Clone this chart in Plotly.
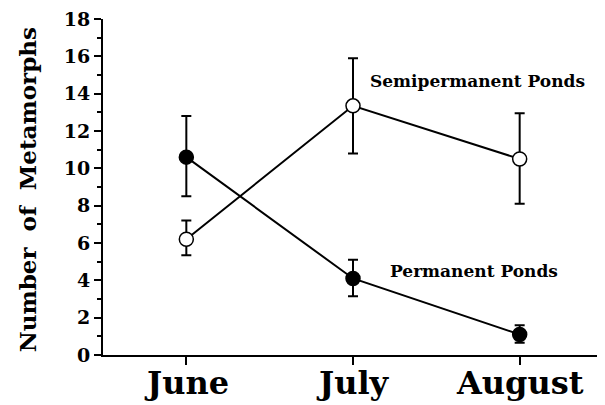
import plotly.graph_objects as go

months = ["June", "July", "August"]
perm_vals = [10.6, 4.1, 1.1]
perm_err_up = [2.2, 1.0, 0.5]
perm_err_dn = [2.1, 0.95, 0.45]
semi_vals = [6.2, 13.35, 10.5]
semi_err_up = [1.0, 2.55, 2.45]
semi_err_dn = [0.85, 2.55, 2.4]
y_ticks = [0, 2, 4, 6, 8, 10, 12, 14, 16, 18]

xpos = list(range(len(months)))
FONT = "DejaVu Serif"

# page has an 8px body margin; figure sized to fit the window
W, H = 597, 397
L, R, T, B = 95, 2, 11, 50
plot_w = W - L - R
plot_h = H - T - B

fig = go.Figure()
fig.add_trace(go.Scatter(
    x=xpos, y=semi_vals, mode="lines+markers",
    line=dict(color="black", width=2),
    marker=dict(size=14, color="white", line=dict(color="black", width=1.5)),
    error_y=dict(type="data", array=semi_err_up, arrayminus=semi_err_dn,
                 color="black", thickness=2, width=5),
    showlegend=False))
fig.add_trace(go.Scatter(
    x=xpos, y=perm_vals, mode="lines+markers",
    line=dict(color="black", width=2),
    marker=dict(size=14, color="black", line=dict(color="black", width=1.5)),
    error_y=dict(type="data", array=perm_err_up, arrayminus=perm_err_dn,
                 color="black", thickness=2, width=5),
    showlegend=False))

fig.add_annotation(x=1.09, y=14.7, xref="x", yref="y", text="<b>Semipermanent Ponds</b>",
                   showarrow=False, xanchor="left", yanchor="middle",
                   font=dict(family=FONT, size=17, color="black"))
fig.add_annotation(x=1.21, y=4.5, xref="x", yref="y", text="<b>Permanent Ponds</b>",
                   showarrow=False, xanchor="left", yanchor="middle",
                   font=dict(family=FONT, size=17, color="black"))
fig.add_annotation(x=(19 - L) / plot_w, y=0.49, xref="paper", yref="paper",
                   text="<b>Number  of  Metamorphs</b>", textangle=-90,
                   showarrow=False, xanchor="center", yanchor="middle",
                   font=dict(family=FONT, size=23, color="black"))
for i, m in enumerate(months):
    fig.add_annotation(x=i, y=-28 / plot_h, xref="x", yref="paper",
                       text="<b>%s</b>" % m, showarrow=False,
                       xanchor="center", yanchor="middle",
                       font=dict(family=FONT, size=32, color="black"))

fig.update_layout(
    width=W, height=H,
    margin=dict(l=L, r=R, t=T, b=B),
    paper_bgcolor="white", plot_bgcolor="white",
    xaxis=dict(range=[-0.5, 2.5], tickvals=xpos, showticklabels=False, automargin=False,
               showgrid=False, zeroline=False, showline=True, linecolor="black", linewidth=2,
               ticks="outside", ticklen=8, tickwidth=2, tickcolor="black"),
    yaxis=dict(range=[0, 18], tickvals=y_ticks, ticktext=["<b>%d</b>" % v for v in y_ticks],
               automargin=False,
               showgrid=False, zeroline=False, showline=True, linecolor="black", linewidth=2,
               ticks="outside", ticklen=7, tickwidth=2, tickcolor="black",
               ticklabeloverflow="allow",
               tickfont=dict(family=FONT, size=19, color="black"),
               minor=dict(dtick=1, ticks="outside", ticklen=4, tickwidth=1.5, tickcolor="black",
                          showgrid=False)),
)

fig.write_html("out.html")
